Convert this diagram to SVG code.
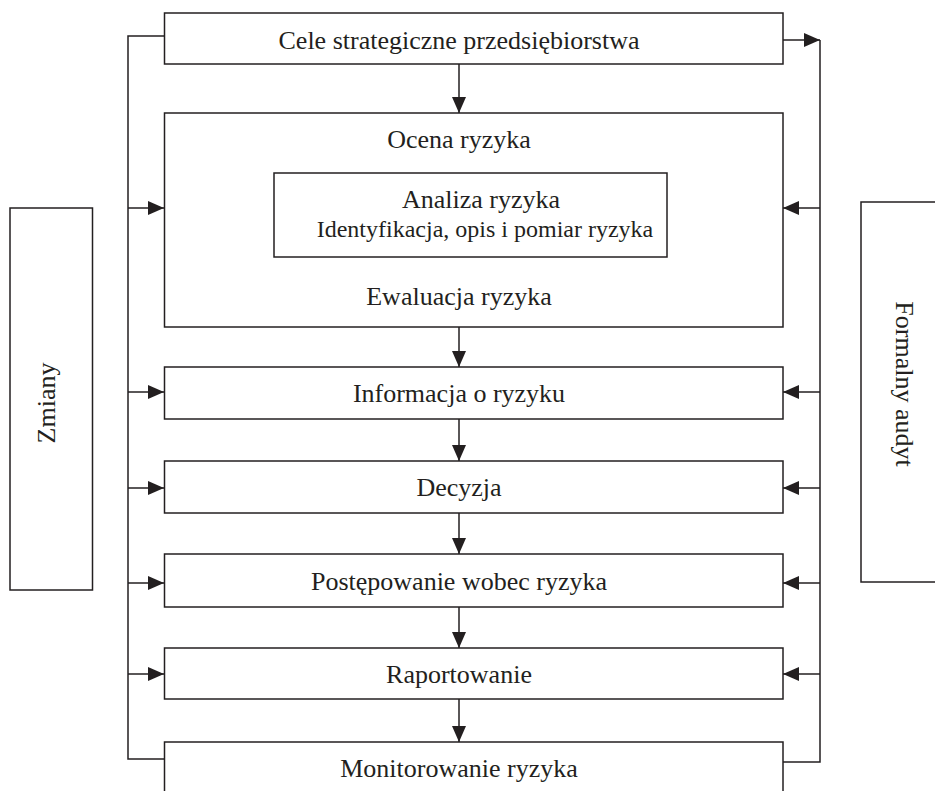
<svg xmlns="http://www.w3.org/2000/svg" width="935" height="791" viewBox="0 0 935 791">
<style>
.box{fill:#fff;stroke:#231f20;stroke-width:1.5}
.ln{fill:none;stroke:#231f20;stroke-width:1.5}
text{font-family:"Liberation Serif","Times New Roman",serif;fill:#231f20;font-size:26px;text-anchor:middle}
.sm{font-size:24px}
</style>
<defs>
<marker id="ah" viewBox="0 0 16 14" refX="16" refY="7" markerWidth="16" markerHeight="14" markerUnits="userSpaceOnUse" orient="auto">
<path d="M0,0 L16,7 L0,14 Z" fill="#231f20"/>
</marker>
</defs>
<rect width="935" height="791" fill="#fff"/>
<g id="connectors">
<path class="ln" d="M164,36 H128 V759 H164"/>
<path class="ln" d="M128,208 H164" marker-end="url(#ah)"/>
<path class="ln" d="M128,392 H164" marker-end="url(#ah)"/>
<path class="ln" d="M128,488 H164" marker-end="url(#ah)"/>
<path class="ln" d="M128,583 H164" marker-end="url(#ah)"/>
<path class="ln" d="M128,674 H164" marker-end="url(#ah)"/>
<path class="ln" d="M783,40 H820" marker-end="url(#ah)"/>
<path class="ln" d="M820,40 V762 H783"/>
<path class="ln" d="M820,208 H783" marker-end="url(#ah)"/>
<path class="ln" d="M820,392 H783" marker-end="url(#ah)"/>
<path class="ln" d="M820,488 H783" marker-end="url(#ah)"/>
<path class="ln" d="M820,583 H783" marker-end="url(#ah)"/>
<path class="ln" d="M820,674 H783" marker-end="url(#ah)"/>
<path class="ln" d="M459,64 V113" marker-end="url(#ah)"/>
<path class="ln" d="M459,327 V367" marker-end="url(#ah)"/>
<path class="ln" d="M459,419 V461" marker-end="url(#ah)"/>
<path class="ln" d="M459,513 V554" marker-end="url(#ah)"/>
<path class="ln" d="M459,607 V648" marker-end="url(#ah)"/>
<path class="ln" d="M459,699 V742" marker-end="url(#ah)"/>
</g>
<g id="cele"><rect class="box" x="164.5" y="13" width="618.5" height="51"/><text x="459" y="49">Cele strategiczne przedsiębiorstwa</text></g>
<g id="ocena"><rect class="box" x="164.5" y="113" width="618.5" height="214"/><text x="459" y="148">Ocena ryzyka</text><text x="459" y="305">Ewaluacja ryzyka</text></g>
<g id="analiza"><rect class="box" x="274" y="173" width="393" height="84"/><text x="481" y="208">Analiza ryzyka</text><text class="sm" x="485" y="237">Identyfikacja, opis i pomiar ryzyka</text></g>
<g id="informacja"><rect class="box" x="164.5" y="367" width="618.5" height="52"/><text x="459" y="402">Informacja o ryzyku</text></g>
<g id="decyzja"><rect class="box" x="164.5" y="461" width="618.5" height="52"/><text x="459" y="496">Decyzja</text></g>
<g id="postepowanie"><rect class="box" x="164.5" y="554" width="618.5" height="53"/><text x="459" y="590">Postępowanie wobec ryzyka</text></g>
<g id="raportowanie"><rect class="box" x="164.5" y="648" width="618.5" height="51"/><text x="459" y="683">Raportowanie</text></g>
<g id="monitorowanie"><rect class="box" x="164.5" y="742" width="618.5" height="60"/><text x="459" y="777">Monitorowanie ryzyka</text></g>
<g id="zmiany"><rect class="box" x="10" y="208" width="82.5" height="382"/><text transform="translate(55,403) rotate(-90)">Zmiany</text></g>
<g id="audyt"><rect class="box" x="861" y="202" width="80" height="380"/><text transform="translate(896,384) rotate(90)">Formalny audyt</text></g>
</svg>
